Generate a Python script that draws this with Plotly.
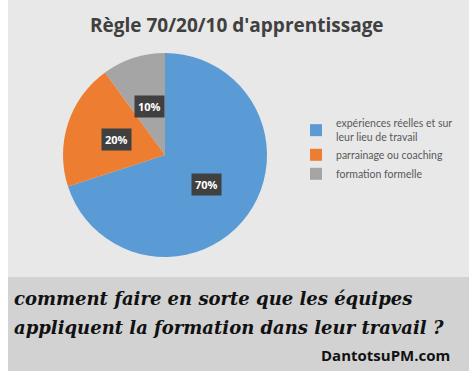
import math
import plotly.graph_objects as go

labels = ["expériences réelles et sur<br>leur lieu de travail", "parrainage ou coaching", "formation formelle"]
values = [70, 20, 10]
colors = ["#5B9BD5", "#ED7D31", "#A5A5A5"]
title_text = "Règle 70/20/10 d'apprentissage"
caption_lines = ["comment faire en sorte que les équipes", "appliquent la formation dans leur travail ?"]
site = "DantotsuPM.com"

W, H = 473, 381
cx_px, cy_px, r_px = 165, 155, 102

fig = go.Figure()
fig.add_trace(go.Pie(
    labels=labels, values=values, sort=False, direction="clockwise", rotation=0,
    marker=dict(colors=colors, line=dict(width=0)),
    textinfo="none", hoverinfo="label+percent",
    domain=dict(x=[(cx_px - r_px) / W, (cx_px + r_px) / W],
                y=[1 - (cy_px + r_px) / H, 1 - (cy_px - r_px) / H]),
))

# data labels with dark boxes, positioned from the slice angles
total = sum(values)
cum = 0
annotations = []
for v in values:
    mid = (cum + v / 2) / total * 2 * math.pi
    cum += v
    rr = 0.5 * r_px
    x = cx_px + rr * math.sin(mid)
    y = cy_px - rr * math.cos(mid)
    annotations.append(dict(x=x / W, y=1 - y / H, xref="paper", yref="paper",
                            xanchor="center", yanchor="middle",
                            text=f"<b>{round(v / total * 100)}%</b>", showarrow=False,
                            font=dict(family="Open Sans", size=11, color="white"),
                            bgcolor="#404040", borderpad=3))

annotations.append(dict(x=0.5, y=1 - 25 / H, xref="paper", yref="paper", xanchor="center", yanchor="middle",
                        text="<b>" + title_text + "</b>",
                        showarrow=False, font=dict(family="Open Sans", size=19, color="#404040")))
annotations.append(dict(x=12 / W, y=1 - 298 / H, xref="paper", yref="paper", xanchor="left", yanchor="middle",
                        text="<b><i>" + caption_lines[0] + "</i></b>", showarrow=False,
                        font=dict(family="DejaVu Serif", size=18, color="#111111")))
annotations.append(dict(x=12 / W, y=1 - 327 / H, xref="paper", yref="paper", xanchor="left", yanchor="middle",
                        text="<b><i>" + caption_lines[1] + "</i></b>", showarrow=False,
                        font=dict(family="DejaVu Serif", size=18, color="#111111")))
annotations.append(dict(x=452 / W, y=1 - 355 / H, xref="paper", yref="paper", xanchor="right", yanchor="middle",
                        text="<b>" + site + "</b>", showarrow=False,
                        font=dict(family="Open Sans", size=15, color="#111111")))

shapes = [
    dict(type="rect", xref="paper", yref="paper", x0=8 / W, x1=469 / W, y0=1 - 371 / H, y1=1,
         fillcolor="#D2D2D2", line=dict(width=0), layer="below"),
    dict(type="rect", xref="paper", yref="paper", x0=8 / W, x1=469 / W, y0=1 - 277 / H, y1=1,
         fillcolor="#E8E8E8", line=dict(width=0), layer="below"),
]

fig.update_layout(
    width=W, height=H, margin=dict(l=0, r=0, t=0, b=0, autoexpand=False),
    paper_bgcolor="white", plot_bgcolor="white",
    showlegend=True,
    legend=dict(x=296 / W, y=1 - 110 / H, xanchor="left", yanchor="top",
                font=dict(family="Lato", size=10.5, color="#595959"),
                bgcolor="rgba(0,0,0,0)", itemwidth=30),
    annotations=annotations, shapes=shapes,
)
fig.write_html("out.html", config={"displayModeBar": False},
               post_script="document.body.style.margin='0';document.body.style.overflow='hidden';")
